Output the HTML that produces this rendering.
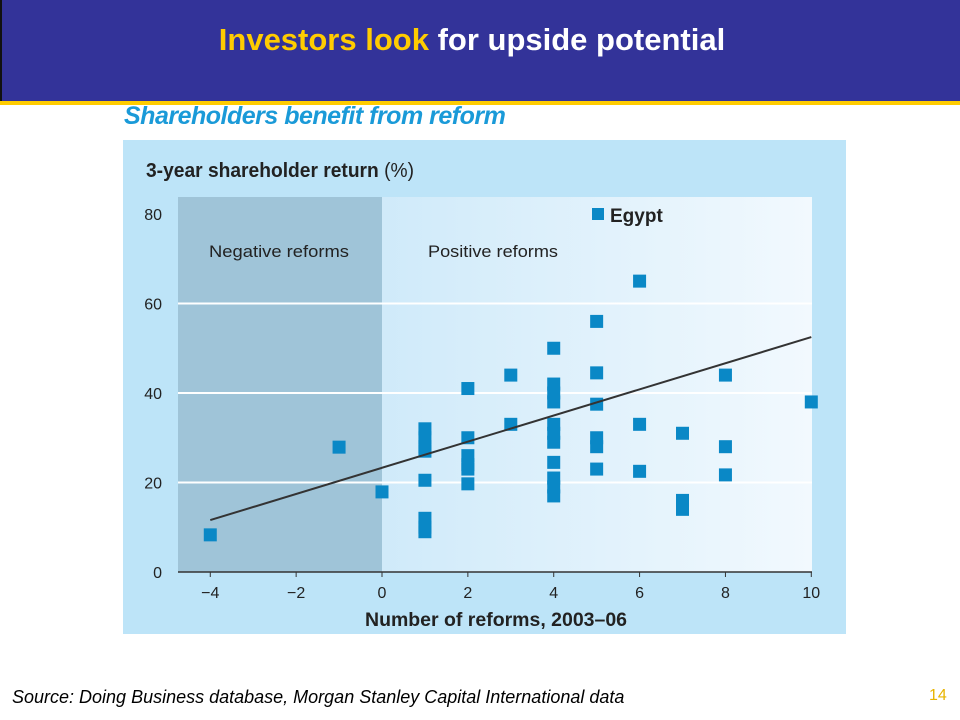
<!DOCTYPE html>
<html><head><meta charset="utf-8"><style>
body{margin:0;width:960px;height:720px;background:#fff;position:relative;overflow:hidden;font-family:"Liberation Sans",sans-serif}
.abs{position:absolute}
</style></head><body>
<div class="abs" style="left:0;top:0;width:960px;height:101px;background:#333399;border-left:2px solid #111;box-sizing:border-box"></div>
<div class="abs" style="left:0;top:101px;width:960px;height:4px;background:#ffcc00"></div>
<div class="abs" style="left:0;top:22px;width:944px;text-align:center;font-size:31px;font-weight:bold;color:#fff"><span style="color:#ffcc00">Investors look</span> for upside potential</div>
<div class="abs" style="left:124px;top:102px;font-size:25px;font-weight:bold;font-style:italic;color:#1a9ad8;letter-spacing:-0.5px">Shareholders benefit from reform</div>
<svg class="abs" style="left:0;top:0" width="960" height="720">
<defs><linearGradient id="g" x1="0" x2="1"><stop offset="0" stop-color="#bfe3f7"/><stop offset="1" stop-color="#f2f9fe"/></linearGradient></defs>
<rect x="123" y="140" width="723" height="494" fill="#bde4f8"/>
<rect x="178" y="197" width="634" height="375" fill="url(#g)"/>
<rect x="178" y="197" width="204" height="375" fill="#9fc4d8"/>
<text x="146" y="177" font-size="20" font-weight="bold" fill="#222" textLength="268" lengthAdjust="spacingAndGlyphs">3-year shareholder return <tspan font-weight="normal">(%)</tspan></text>
<text x="209" y="257" font-size="17" fill="#222" textLength="140" lengthAdjust="spacingAndGlyphs">Negative reforms</text>
<text x="428" y="257" font-size="17" fill="#222" textLength="130" lengthAdjust="spacingAndGlyphs">Positive reforms</text>
<rect x="592" y="208" width="12" height="12" fill="#0a88c6"/>
<text x="610" y="222" font-size="19" font-weight="bold" fill="#222">Egypt</text>
<text x="365" y="626" font-size="19" font-weight="bold" fill="#222" textLength="262" lengthAdjust="spacingAndGlyphs">Number of reforms, 2003–06</text>
<g id="grid"></g><g id="axes"></g><g id="pts"></g>
</svg>
<div class="abs" style="left:12px;top:687px;font-size:18px;font-style:italic;color:#000">Source: Doing Business database, Morgan Stanley Capital International data</div>
<div class="abs" style="left:929px;top:687px;font-size:16px;color:#e8b400">14</div>
<script>
const yTicks=[0,20,40,60,80];
const xTicks=[-4,-2,0,2,4,6,8,10];
const xVals=[-4,-1,0,1,1,1,1,1,1,1,1,2,2,2,2,2,2,3,3,4,4,4,4,4,4,4,4,4,4,4,5,5,5,5,5,5,6,6,6,7,7,7,8,8,8,10];
const yVals=[8.3,27.9,17.9,32,30,28,27,20.5,12,10,9,41,30,26,24,23,19.7,44,33,50,42,40,38,33,31,29,24.5,21,19,17,56,44.5,37.5,30,28,23,65,33,22.5,31,16,14,44,28,21.7,38];
const trendX=[-4,10];
const trendY=[11.6,52.5];
const NS='http://www.w3.org/2000/svg';
const X=v=>382+v*42.93, Y=v=>572-v*4.475;
function mk(t,a,p){const e=document.createElementNS(NS,t);for(const k in a)e.setAttribute(k,a[k]);p.appendChild(e);return e;}
const grid=document.getElementById('grid'),axes=document.getElementById('axes'),pts=document.getElementById('pts');
yTicks.forEach(v=>{
 if(v>0&&v<80){const l=mk('line',{x1:178,x2:812,y1:Y(v),y2:Y(v),stroke:'#fff','stroke-width':2},grid);
 
 }
 const t=mk('text',{x:162,y:Y(v)+6,'font-size':16,'text-anchor':'end',fill:'#222'},axes);t.textContent=v;
 
 
});
const ax=mk('line',{x1:178,x2:812,y1:572,y2:572,stroke:'#333','stroke-width':1.5},axes);


xTicks.forEach(v=>{
 mk('line',{x1:X(v),x2:X(v),y1:572,y2:577,stroke:'#333'},axes);
 const t=mk('text',{x:X(v),y:598,'font-size':16,'text-anchor':'middle',fill:'#222'},axes);t.textContent=(v<0?'−'+(-v):v);
 
 
});
xVals.forEach((x,i)=>{
 if(yVals[i]===undefined)return;
 const r=mk('rect',{x:X(x)-6.5,y:Y(yVals[i])-6.5,width:13,height:13,fill:'#0a88c6'},pts);
 
 
});
const tl=mk('line',{x1:X(trendX[0]),y1:Y(trendY[0]),x2:X(trendX[1]),y2:Y(trendY[1]),stroke:'#333','stroke-width':2},pts);


</script>
</body></html>
